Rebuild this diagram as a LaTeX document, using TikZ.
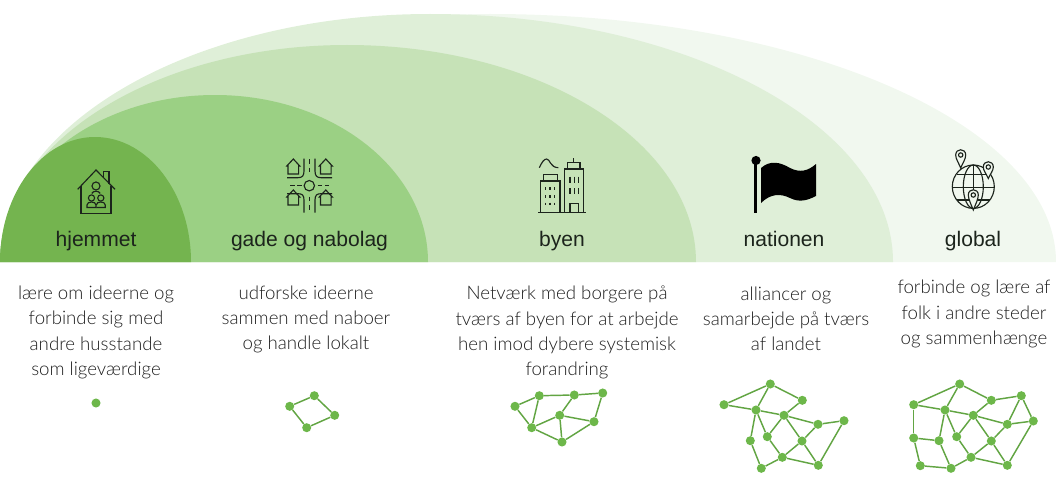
\documentclass[tikz,border=0pt]{standalone}
\usepackage{fontspec}
\setmainfont{Lato Light}
\newfontfamily\labelfont{Liberation Sans}
\usetikzlibrary{positioning}
\definecolor{domeA}{HTML}{74B44F}
\definecolor{domeB}{HTML}{9BD084}
\definecolor{domeC}{HTML}{C6E2B7}
\definecolor{domeD}{HTML}{DFEFD8}
\definecolor{domeE}{HTML}{F1F8EF}
\definecolor{netgreen}{HTML}{6DB74A}
\definecolor{inkdark}{HTML}{1C241C}
\tikzstyle{title} = [font=\labelfont\fontsize{15.8}{18}\selectfont, text=inkdark, inner sep=0pt, anchor=base]
\tikzstyle{body} = [font=\fontsize{14}{18.9}\selectfont, text=black!88, align=center, inner sep=0pt]
\tikzstyle{dot} = [circle, fill=netgreen, minimum size=6.8pt, inner sep=0pt]
\tikzstyle{link} = [draw=netgreen!90!black, line width=1.1pt]
\tikzstyle{icon} = [draw=inkdark, line width=0.85pt]
\newcommand{\hut}[2]{\draw[icon] (#1,#2) -- ++(6.5,7) -- ++(-1.2,0) -- ++(0,8) -- ++(-10.6,0) -- ++(0,-8) -- ++(-1.2,0) -- cycle;}
\newcommand{\pin}[3]{\draw[icon, fill=domeE] (#1,{#2+#3}) .. controls ({#1-2},{#2+#3-5}) and ({#1-5},{#2+4}) .. ({#1-5},#2) .. controls ({#1-5},{#2-7}) and ({#1+5},{#2-7}) .. ({#1+5},#2) .. controls ({#1+5},{#2+4}) and ({#1+2},{#2+#3-5}) .. cycle;
	\draw[icon] (#1,#2) circle (2.2);}

\begin{document}
\begin{tikzpicture}[x=0.75pt,y=-0.75pt]
	\useasboundingbox (0,0) rectangle (1056,478);
	
	% domes, biggest first
	\fill[domeE] (0,262) .. controls (0,125) and (219.4,14) .. (490,14) .. controls (802.6,14) and (1056,125) .. (1056,262) -- cycle;
	\fill[domeD] (0,262) .. controls (0,125) and (192.5,14) .. (430,14) .. controls (685.7,14) and (893,125) .. (893,262) -- cycle;
	\fill[domeC] (0,262) .. controls (0,142.2) and (155.4,45) .. (347,45) .. controls (539.8,45) and (696,142.2) .. (696,262) -- cycle;
	\fill[domeB] (0,262) .. controls (0,169.8) and (96.3,95) .. (215,95) .. controls (332.6,95) and (428,169.8) .. (428,262) -- cycle;
	\fill[domeA] (0,262) .. controls (0,193) and (42.5,137) .. (95,137) .. controls (148,137) and (191,193) .. (191,262) -- cycle;
	
	\node (hjemmet) [title] at (96,246.5) {hjemmet};
	\node (gade) [title] at (309.5,246.5) {gade og nabolag};
	\node (byen) [title] at (562,246.5) {byen};
	\node (nationen) [title] at (784,246.5) {nationen};
	\node (global) [title] at (973,246.5) {global};
	
	\node (hjemmettext) [body] at (96,332.5) {lære om ideerne og\\forbinde sig med\\andre husstande\\som ligeværdige};
	\node (gadetext) [body] at (306,319.5) {udforske ideerne\\sammen med naboer\\og handle lokalt};
	\node (byentext) [body] at (567,332.5) {Netværk med borgere på\\tværs af byen for at arbejde\\hen imod dybere systemisk\\forandring};
	\node (nationentext) [body] at (786,318.5) {alliancer og\\samarbejde på tværs\\af landet};
	\node (globaltext) [body] at (974,314) {forbinde og lære af\\folk i andre steder\\og sammenhænge};
	
	% house icon
	\draw[icon] (77.7,189.3) -- (96,170) -- (115,189.3);
	\draw[icon] (103.3,177.5) -- (103.3,171.7) -- (109,171.7) -- (109,183.5);
	\draw[icon] (81,185.5) -- (81,213.3) -- (111,213.3) -- (111,185.5);
	\draw[icon] (96,186) circle (4);
	\draw[icon] (91.8,193.5) .. controls (93,190.5) and (99,190.5) .. (100.2,193.5);
	\draw[icon] (91.5,198) circle (3.1);
	\draw[icon] (100.8,198) circle (3.1);
	\draw[icon] (87,207.5) -- (87,205) .. controls (87,201) and (96,201) .. (96,205) -- (96,207.5) -- cycle;
	\draw[icon] (96.3,205) .. controls (96.3,201) and (105.3,201) .. (105.3,205) -- (105.3,207.5) -- (96.3,207.5);
	
	% roads icon
	\hut{293.3}{159}
	\hut{325.8}{159}
	\hut{293.3}{190}
	\hut{325.8}{190}
	\draw[icon] (309.3,185.7) circle (5.2);
	\draw[icon] (304,158.5) -- (304,171) .. controls (304,176) and (302,177.7) .. (298,177.7) -- (287,177.7);
	\draw[icon] (315,158.5) -- (315,171) .. controls (315,176) and (317,177.7) .. (321,177.7) -- (332,177.7);
	\draw[icon] (304,212.5) -- (304,200) .. controls (304,195) and (302,193.7) .. (298,193.7) -- (287,193.7);
	\draw[icon] (315,212.5) -- (315,200) .. controls (315,195) and (317,193.7) .. (321,193.7) -- (332,193.7);
	\draw[icon, dash pattern=on 3.5pt off 3pt] (309.5,159) -- (309.5,175);
	\draw[icon, dash pattern=on 3.5pt off 3pt] (309.5,196.5) -- (309.5,212.5);
	\draw[icon, dash pattern=on 3.5pt off 2pt] (290,185.7) -- (301.5,185.7);
	\draw[icon, dash pattern=on 3.5pt off 2pt] (317.5,185.7) -- (329,185.7);
	
	% city icon
	\draw[icon] (538.3,212.3) -- (586,212.3);
	\draw[icon] (540.7,212.3) -- (540.7,181) -- (560,181) -- (560,212.3);
	\draw[icon] (543.3,181) -- (543.3,174.3) -- (557.3,174.3) -- (557.3,181);
	\draw[icon] (564.3,212.3) -- (564.3,169) -- (583.3,169) -- (583.3,212.3);
	\draw[icon] (567.3,169) -- (567.3,162.3) -- (580,162.3) -- (580,169);
	\draw[icon] (573.7,162.3) -- (573.7,158.3);
	\draw[icon] (570,212.3) -- (570,203.3) -- (578.3,203.3) -- (578.3,212.3);
	\draw[icon] (539.3,167.7) .. controls (542,162) and (544,159) .. (546.7,159) .. controls (550,159) and (550,167.5) .. (558.3,167.7);
	\foreach \wx in {570,574.2,578.3} {
		\draw[icon] (\wx,176.7) -- (\wx,183.3);
		\draw[icon] (\wx,188.3) -- (\wx,194.3);
	}
	\foreach \wx in {545.7,550,554.3} {
		\draw[icon] (\wx,187.3) -- (\wx,190);
		\draw[icon] (\wx,195) -- (\wx,197.7);
		\draw[icon] (\wx,202.7) -- (\wx,205);
	}
	
	% flag icon
	\draw[line width=2.6pt, draw=black] (755.5,160) -- (755.5,213);
	\fill[black] (756,160.5) circle (4.6);
	\fill[black] (761,168) .. controls (770,160) and (780,162) .. (790,168) .. controls (800,173) and (808,171) .. (816,164) -- (816,196) .. controls (808,200) and (800,203) .. (790,198) .. controls (780,193) and (770,194) .. (761,203) -- cycle;
	
	% globe icon
	\draw[icon] (973.3,186.7) ellipse (21 and 21.7);
	\draw[icon] (973.3,186.7) ellipse (10 and 21.7);
	\draw[icon] (973.3,165) -- (973.3,208.4);
	\draw[icon] (956.5,174.3) -- (990,174.3);
	\draw[icon] (952.3,187.7) -- (994.3,187.7);
	\draw[icon] (956.5,200) -- (990,200);
	\pin{960.7}{155}{13}
	\pin{988.3}{167}{11.5}
	\pin{973.3}{195}{15}
	
	% networks
	\node (home) [dot] at (96,403) {};
	
	\node (gA) [dot] at (289.7,406.3) {};
	\node (gB) [dot] at (314.3,395.7) {};
	\node (gC) [dot] at (334.7,415.3) {};
	\node (gD) [dot] at (306.7,427.7) {};
	\draw[link] (gA) -- (gB);
	\draw[link] (gB) -- (gC);
	\draw[link] (gC) -- (gD);
	\draw[link] (gD) -- (gA);
	
	\node (bA) [dot] at (515,406.3) {};
	\node (bB) [dot] at (539.3,395.7) {};
	\node (bC) [dot] at (574.3,395) {};
	\node (bD) [dot] at (602.7,393) {};
	\node (bE) [dot] at (559.7,415.3) {};
	\node (bF) [dot] at (594,421.7) {};
	\node (bG) [dot] at (531.7,427.7) {};
	\node (bH) [dot] at (562,442) {};
	\draw[link] (bA) -- (bB);
	\draw[link] (bB) -- (bC);
	\draw[link] (bC) -- (bD);
	\draw[link] (bD) -- (bF);
	\draw[link] (bA) -- (bG);
	\draw[link] (bB) -- (bG);
	\draw[link] (bC) -- (bE);
	\draw[link] (bE) -- (bF);
	\draw[link] (bE) -- (bG);
	\draw[link] (bE) -- (bH);
	\draw[link] (bG) -- (bH);
	\draw[link] (bH) -- (bF);
	
	\node (nA) [dot] at (724,404.7) {};
	\node (nB) [dot] at (770.3,384) {};
	\node (nC) [dot] at (802.3,400.3) {};
	\node (nD) [dot] at (756,410) {};
	\node (nE) [dot] at (784,415.3) {};
	\node (nF) [dot] at (818,424.3) {};
	\node (nG) [dot] at (844,420.7) {};
	\node (nH) [dot] at (750.3,440.7) {};
	\node (nI) [dot] at (767.3,436.7) {};
	\node (nJ) [dot] at (802,441) {};
	\node (nK) [dot] at (782.3,457.3) {};
	\node (nL) [dot] at (761.3,468.3) {};
	\node (nM) [dot] at (818.3,465.3) {};
	\draw[link] (nA) -- (nB);
	\draw[link] (nB) -- (nC);
	\draw[link] (nA) -- (nD);
	\draw[link] (nB) -- (nD);
	\draw[link] (nC) -- (nE);
	\draw[link] (nD) -- (nE);
	\draw[link] (nE) -- (nF);
	\draw[link] (nF) -- (nG);
	\draw[link] (nG) -- (nM);
	\draw[link] (nD) -- (nH);
	\draw[link] (nD) -- (nI);
	\draw[link] (nE) -- (nI);
	\draw[link] (nE) -- (nJ);
	\draw[link] (nF) -- (nJ);
	\draw[link] (nI) -- (nK);
	\draw[link] (nH) -- (nL);
	\draw[link] (nL) -- (nK);
	\draw[link] (nK) -- (nJ);
	\draw[link] (nK) -- (nM);
	\draw[link] (nJ) -- (nM);
	
	\node (wA) [dot] at (913.7,404.7) {};
	\node (wB) [dot] at (959.7,384) {};
	\node (wC) [dot] at (991.3,400.3) {};
	\node (wD) [dot] at (1021.3,395.7) {};
	\node (wE) [dot] at (1033.3,421) {};
	\node (wF) [dot] at (945,410) {};
	\node (wG) [dot] at (973.3,415.3) {};
	\node (wH) [dot] at (1007.3,424.3) {};
	\node (wI) [dot] at (913.7,438) {};
	\node (wJ) [dot] at (939,440.7) {};
	\node (wK) [dot] at (956.7,436.7) {};
	\node (wL) [dot] at (991.3,441) {};
	\node (wM) [dot] at (971,457.3) {};
	\node (wN) [dot] at (920.3,465.7) {};
	\node (wO) [dot] at (951,468.3) {};
	\node (wP) [dot] at (1007.3,465.3) {};
	\draw[link] (wA) -- (wB);
	\draw[link] (wB) -- (wC);
	\draw[link] (wC) -- (wD);
	\draw[link] (wD) -- (wE);
	\draw[link] (wD) -- (wH);
	\draw[link] (wH) -- (wE);
	\draw[link] (wE) -- (wP);
	\draw[link] (wA) -- (wF);
	\draw[link] (wF) -- (wG);
	\draw[link] (wG) -- (wH);
	\draw[link] (wB) -- (wF);
	\draw[link] (wC) -- (wG);
	\draw[link] (wA) -- (wI);
	\draw[link] (wI) -- (wJ);
	\draw[link] (wI) -- (wN);
	\draw[link] (wN) -- (wO);
	\draw[link] (wJ) -- (wF);
	\draw[link] (wJ) -- (wO);
	\draw[link] (wO) -- (wM);
	\draw[link] (wF) -- (wK);
	\draw[link] (wG) -- (wK);
	\draw[link] (wK) -- (wM);
	\draw[link] (wG) -- (wL);
	\draw[link] (wH) -- (wL);
	\draw[link] (wM) -- (wL);
	\draw[link] (wM) -- (wP);
	\draw[link] (wL) -- (wP);
	
\end{tikzpicture}
\end{document}
